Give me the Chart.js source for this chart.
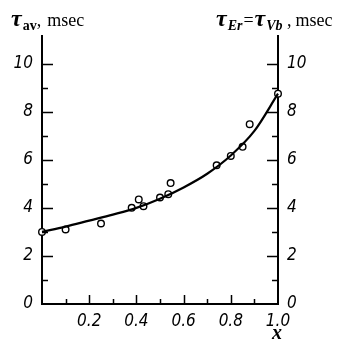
<!DOCTYPE html>
<html>
<head>
<meta charset="utf-8">
<script src="https://cdn.jsdelivr.net/npm/chart.js@4.4.1/dist/chart.umd.min.js"></script>
<style>
  body { margin: 0; background: #fff; }
  #wrap { position: relative; width: 340px; height: 344px; }
  .lbl { position: absolute; font-family: 'Liberation Serif', 'DejaVu Serif', serif; font-size: 18px; line-height: 24px; color: #000; white-space: nowrap; }
  .tau { font-style: italic; font-weight: bold; font-size: 24px; }
  .lbl sub { font-size: 14px; vertical-align: -4px; font-weight: bold; margin-left: 1px; }
  .gap { margin-left: 6px; }
</style>
</head>
<body>
<div id="wrap">
  <canvas id="chart" width="340" height="344"></canvas>
  <div class="lbl" style="left:11px; top:6px;"><span class="tau">τ</span><sub>av</sub>,<span class="gap">msec</span></div>
  <div class="lbl" style="left:216px; top:6px;"><span class="tau">τ</span><sub><i>Er</i></sub><span style="margin:0 1px">=</span><span class="tau">τ</span><sub><i>Vb</i></sub> ,<span class="gap" style="margin-left:4px">msec</span></div>
  <div class="lbl" style="left:272px; top:320px; font-size:20px; font-style:italic; font-weight:bold;">x</div>
</div>
<script>
// measured points (open circles)
const measuredX = [0.0, 0.10, 0.25, 0.38, 0.41, 0.43, 0.50, 0.535, 0.545, 0.74, 0.80, 0.85, 0.88, 1.0];
const measuredY = [3.0, 3.1, 3.35, 4.0, 4.35, 4.07, 4.43, 4.57, 5.03, 5.77, 6.16, 6.54, 7.48, 8.75];

// fitted curve
const curveX = [0.0, 0.1, 0.2, 0.3, 0.4, 0.5, 0.6, 0.7, 0.8, 0.9, 1.0];
const curveY = [3.0, 3.22, 3.47, 3.72, 4.0, 4.38, 4.85, 5.42, 6.18, 7.2, 8.75];

const xTicks = [0.2, 0.4, 0.6, 0.8, 1.0];
const yTicks = [0, 2, 4, 6, 8, 10];

const tickFont = { family: "'DejaVu Sans Condensed', 'Liberation Sans Narrow', sans-serif", size: 17, style: 'italic' };

// inward tick marks, majors and minors
const tickMarks = {
  id: 'tickMarks',
  afterDraw(chart) {
    const { ctx, chartArea: a, scales } = chart;
    ctx.save();
    ctx.strokeStyle = '#000';
    ctx.lineWidth = 1.5;
    ctx.beginPath();
    for (let v = 1; v <= 10; v++) {
      const py = Math.round(scales.y.getPixelForValue(v)) + 0.5;
      const len = v % 2 === 0 ? 11 : 6;
      ctx.moveTo(a.left, py); ctx.lineTo(a.left + len, py);
      ctx.moveTo(a.right, py); ctx.lineTo(a.right - len, py);
    }
    for (let i = 1; i < 10; i++) {
      const px = Math.round(scales.x.getPixelForValue(i / 10)) + 0.5;
      const len = i % 2 === 0 ? 9 : 5;
      ctx.moveTo(px, a.bottom); ctx.lineTo(px, a.bottom - len);
    }
    ctx.stroke();
    ctx.restore();
  }
};

const yAxis = (pos) => ({
  type: 'linear',
  position: pos,
  min: 0,
  max: 11.15,
  afterBuildTicks: s => { s.ticks = yTicks.map(v => ({ value: v })); },
  afterFit: s => { s.width = pos === 'left' ? 42 : 62; },
  grid: { display: false, drawTicks: false },
  border: { display: true, color: '#000', width: 2 },
  ticks: { color: '#000', font: tickFont, padding: 9 }
});

new Chart(document.getElementById('chart'), {
  type: 'scatter',
  data: {
    datasets: [
      {
        data: curveX.map((x, i) => ({ x, y: curveY[i] })),
        showLine: true,
        borderColor: '#000',
        borderWidth: 2.2,
        pointRadius: 0,
        cubicInterpolationMode: 'monotone',
        yAxisID: 'y',
        clip: false
      },
      {
        data: measuredX.map((x, i) => ({ x, y: measuredY[i] })),
        pointRadius: 3.3,
        pointBackgroundColor: '#fff',
        pointBorderColor: '#000',
        pointBorderWidth: 1.4,
        yAxisID: 'y',
        clip: false
      }
    ]
  },
  options: {
    responsive: false,
    animation: false,
    layout: { padding: { top: 36, left: 0, right: 0, bottom: 0 } },
    plugins: { legend: { display: false }, tooltip: { enabled: false } },
    scales: {
      x: {
        type: 'linear',
        min: 0,
        max: 1,
        afterBuildTicks: s => { s.ticks = xTicks.map(v => ({ value: v })); },
        afterFit: s => { s.height = 40; },
        grid: { display: false, drawTicks: false },
        border: { display: true, color: '#000', width: 2 },
        ticks: { color: '#000', font: tickFont, padding: 7, maxRotation: 0, callback: v => v.toFixed(1) }
      },
      y: yAxis('left'),
      y2: yAxis('right')
    }
  },
  plugins: [tickMarks]
});
</script>
</body>
</html>
